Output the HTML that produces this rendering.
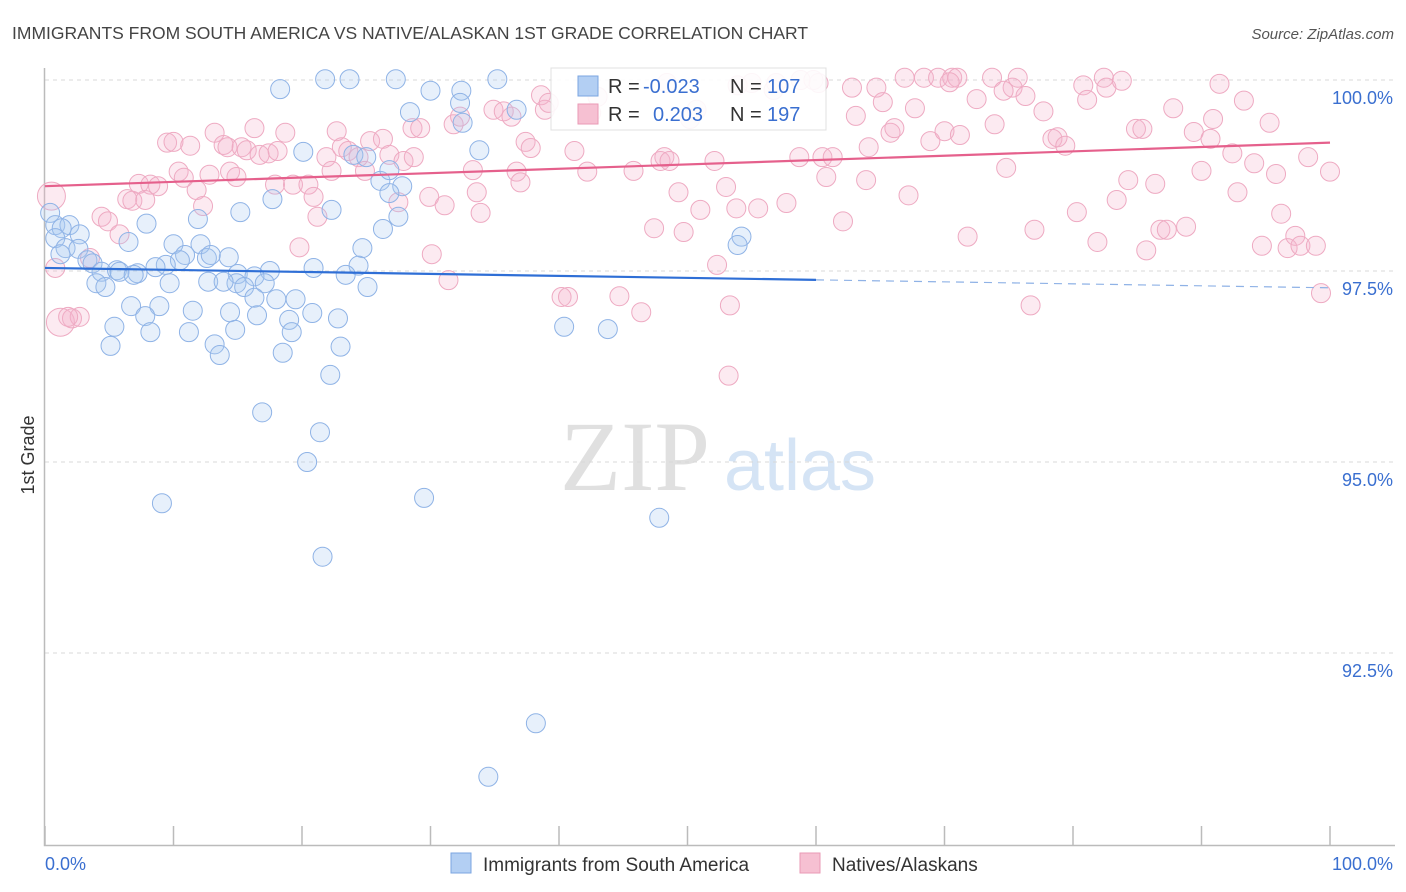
<!DOCTYPE html>
<html><head><meta charset="utf-8"><style>
html,body{margin:0;padding:0;background:#fff;width:1406px;height:892px;overflow:hidden;font-family:"Liberation Sans",sans-serif}
</style></head><body>
<svg id="chart" width="1406" height="892" xmlns="http://www.w3.org/2000/svg" font-family="Liberation Sans, sans-serif">
<text x="12" y="39" font-size="17.5" fill="#444">IMMIGRANTS FROM SOUTH AMERICA VS NATIVE/ALASKAN 1ST GRADE CORRELATION CHART</text>
<text x="1394" y="39" font-size="15" fill="#555" font-style="italic" text-anchor="end">Source: ZipAtlas.com</text>
<g>
<text x="635" y="490" font-size="100" fill="#e0e0e0" text-anchor="middle" font-family="Liberation Serif, serif">ZIP</text>
<text x="800" y="490" font-size="72" fill="#d5e4f5" text-anchor="middle">atlas</text>
</g>
<text transform="translate(34,455) rotate(-90)" font-size="18" fill="#333" text-anchor="middle">1st Grade</text>
<g id="grid"></g><g id="axes"></g><g id="pts"></g><g id="trend"></g>
<g>
<rect x="551" y="68" width="275" height="62" fill="#fff" stroke="#ddd" opacity="0.9"/>
<rect x="578" y="76" width="20" height="20" fill="#b3cff3" stroke="#7ba6e0"/>
<text x="608" y="93" font-size="20" fill="#333">R = </text>
<text x="643" y="93" font-size="20" fill="#3a6fd0">-0.023</text>
<text x="730" y="93" font-size="20" fill="#333">N = </text>
<text x="767" y="93" font-size="20" fill="#3a6fd0">107</text>
<rect x="578" y="104" width="20" height="20" fill="#f6c0d2" stroke="#e99ab5"/>
<text x="608" y="121" font-size="20" fill="#333">R = </text>
<text x="653" y="121" font-size="20" fill="#3a6fd0">0.203</text>
<text x="730" y="121" font-size="20" fill="#333">N = </text>
<text x="767" y="121" font-size="20" fill="#3a6fd0">197</text>
</g>
<g>
<rect x="451" y="853" width="20" height="20" fill="#b3cff3" stroke="#7ba6e0"/>
<text x="483" y="871" font-size="19" fill="#333">Immigrants from South America</text>
<rect x="800" y="853" width="20" height="20" fill="#f6c0d2" stroke="#e99ab5"/>
<text x="832" y="871" font-size="19" fill="#333">Natives/Alaskans</text>
</g>
</svg>
<script>
const yTicks=[100,97.5,95,92.5];
const yTickLabels=["100.0%","97.5%","95.0%","92.5%"];
const xTicks=[0,10,20,30,40,50,60,70,80,90,100];
const blueX=[18.3,21.8,23.7,27.3,35.2,30.0,32.4,32.3,28.4,36.7,32.5,33.8,20.1,24.0,25.0,26.1,26.8,27.8,26.8,17.7,15.2,22.3,27.5,26.3,7.9,0.4,0.8,1.9,1.3,2.7,0.8,1.6,2.6,1.2,6.5,10.0,12.1,11.9,10.9,10.5,9.4,8.6,12.6,14.3,12.9,24.7,20.9,24.4,23.4,17.5,15.0,16.3,14.9,3.3,3.7,4.4,5.6,5.8,7.2,6.9,4.0,4.7,9.7,12.7,13.9,17.1,25.1,15.5,16.3,18.0,19.5,6.7,8.9,11.5,14.4,20.8,5.4,7.8,8.2,11.2,14.8,16.5,19.0,19.2,22.8,5.1,13.2,13.6,18.5,23.0,22.2,16.9,21.4,20.4,9.1,29.5,21.6,38.2,34.5,40.4,43.8,47.8,54.2,53.9];
const blueY=[99.88,100.01,100.01,100.01,100.01,99.86,99.86,99.70,99.58,99.61,99.44,99.08,99.06,99.02,98.99,98.68,98.82,98.61,98.52,98.44,98.27,98.30,98.21,98.05,98.12,98.26,98.10,98.10,98.06,97.98,97.93,97.80,97.79,97.72,97.88,97.85,97.85,98.18,97.71,97.64,97.58,97.55,97.67,97.68,97.71,97.80,97.54,97.57,97.45,97.50,97.46,97.43,97.34,97.64,97.60,97.49,97.51,97.49,97.47,97.45,97.34,97.29,97.34,97.36,97.36,97.34,97.29,97.29,97.15,97.13,97.13,97.04,97.04,96.98,96.96,96.95,96.77,96.91,96.70,96.70,96.73,96.92,96.86,96.70,96.88,96.52,96.54,96.40,96.43,96.51,96.14,95.65,95.39,95.00,94.46,94.53,93.76,91.58,90.88,96.77,96.74,94.27,97.95,97.84];
const pinkX=[0.5,0.8,1.2,2.1,2.7,1.8,3.5,4.4,4.9,5.8,6.4,6.8,7.3,8.2,8.8,7.8,9.5,10.0,10.4,10.8,11.3,11.8,12.3,12.8,13.2,13.9,14.4,14.9,14.2,15.3,15.7,16.3,16.7,17.4,18.1,18.7,17.9,19.3,19.8,20.5,20.9,21.2,21.9,22.3,22.7,23.1,23.6,24.4,24.9,25.3,26.3,26.8,27.9,28.7,27.5,28.6,29.2,30.1,29.9,31.4,31.1,31.8,32.3,33.3,33.6,33.9,34.9,35.7,36.3,36.7,37.0,37.4,37.8,38.6,38.9,39.2,40.2,40.7,41.2,42.2,42.5,43.0,44.7,45.8,46.4,47.4,47.9,48.2,48.6,48.4,49.3,49.7,50.2,50.7,51.0,52.1,52.3,53.0,53.3,53.8,53.2,55.0,55.5,56.7,56.9,57.7,58.7,60.2,60.5,60.8,61.3,62.1,62.8,63.1,63.9,64.1,64.7,65.2,65.8,66.1,66.9,67.2,67.7,68.4,68.9,69.5,70.0,70.6,71.0,71.2,71.8,72.5,73.7,73.9,74.8,75.3,75.7,76.3,76.7,77.0,77.7,78.4,78.8,79.4,80.3,80.8,81.1,81.9,82.4,82.6,83.4,83.8,84.3,84.9,85.4,85.7,86.4,86.8,87.3,87.8,88.8,89.4,90.0,90.7,90.9,91.4,92.4,92.8,93.3,94.1,94.7,95.3,95.8,96.2,96.7,97.3,97.7,98.3,98.9,99.3,100.0,70.4,74.6,53.9,58.8,59.8];
const pinkY=[98.48,97.54,96.83,96.88,96.90,96.90,97.67,98.21,98.15,97.98,98.44,98.42,98.64,98.63,98.61,98.43,99.18,99.19,98.80,98.72,99.14,98.56,98.35,98.76,99.31,99.15,98.80,98.73,99.12,99.12,99.08,99.37,99.02,99.04,99.07,99.31,98.63,98.63,97.81,98.63,98.47,98.21,98.99,98.81,99.33,99.12,99.07,98.99,98.81,99.20,99.23,99.02,98.94,98.99,98.40,99.37,99.37,97.72,98.47,97.38,98.36,99.42,99.52,98.82,98.53,98.26,99.61,99.59,99.52,98.80,98.66,99.19,99.11,99.80,99.61,99.70,97.16,97.16,99.07,98.80,99.57,99.78,97.17,98.81,96.96,98.06,98.94,98.99,98.94,99.96,98.53,98.01,99.49,99.61,98.30,98.94,97.58,98.60,97.05,98.32,96.13,99.96,98.32,99.87,99.96,98.39,98.99,99.96,98.99,98.73,98.99,98.15,99.90,99.53,98.69,99.12,99.90,99.71,99.31,99.37,100.03,98.49,99.63,100.03,99.20,100.03,99.33,100.03,100.03,99.28,97.95,99.75,100.03,99.42,98.85,99.90,100.03,99.79,97.05,98.04,99.59,99.23,99.25,99.14,98.27,99.93,99.74,97.88,100.03,99.90,98.43,99.99,98.69,99.36,99.36,97.77,98.64,98.04,98.04,99.63,98.08,99.32,98.81,99.23,99.49,99.95,99.04,98.53,99.73,98.91,97.83,99.44,98.77,98.25,97.80,97.96,97.83,98.99,97.83,97.21,98.80,99.97,99.86,99.93,100.0,100.0];
const blueTrend=[97.54,97.28];
const pinkTrend=[98.61,99.18];
const blueSolidEnd=60;

const NS="http://www.w3.org/2000/svg";
const X=v=>45+v*12.85;
const Y=v=>80+(100-v)*76.4;
function mk(tag,attrs,parent){const e=document.createElementNS(NS,tag);for(const k in attrs)e.setAttribute(k,attrs[k]);parent.appendChild(e);return e;}
const grid=document.getElementById('grid'),axes=document.getElementById('axes'),pts=document.getElementById('pts'),tr=document.getElementById('trend');
yTicks.forEach((t,i)=>{
  const l=mk('line',{x1:45,x2:1395,y1:Y(t),y2:Y(t),stroke:'#d8d8d8','stroke-dasharray':'4,4'},grid);
  
  
  const tx=mk('text',{x:1393,y:Y(t)+24,'font-size':18,fill:'#3a6fd0','text-anchor':'end'},grid);
  tx.textContent=yTickLabels[i];
  
  
});
const ax=mk('path',{d:'M44.5,68 V845.5 H1395',fill:'none',stroke:'#bbb','stroke-width':1.5},axes);


xTicks.forEach(t=>{
  const tk=mk('line',{x1:X(t),x2:X(t),y1:826,y2:845,stroke:'#bbb','stroke-width':1.5},axes);
  
  
});
const xl0=mk('text',{x:45,y:870,'font-size':18,fill:'#3a6fd0'},axes);xl0.textContent='0.0%';


const xl1=mk('text',{x:1393,y:870,'font-size':18,fill:'#3a6fd0','text-anchor':'end'},axes);xl1.textContent='100.0%';


function draw(xs,ys,fill,stroke,name){
  xs.forEach((x,i)=>{
    const big=(name==='pink-point'&&(i===0||i===2));
    const c=mk('circle',{cx:X(x),cy:Y(ys[i]),r:big?14:9.5,fill:fill,stroke:stroke,'stroke-width':1},pts);
    
    
  });
}
draw(pinkX,pinkY,'rgba(246,180,204,0.28)','#eeaac2','pink-point');
draw(blueX,blueY,'rgba(170,202,242,0.28)','#8fb3e6','blue-point');
const bm=blueTrend[0]+(blueTrend[1]-blueTrend[0])*blueSolidEnd/100;
const b1=mk('line',{x1:X(0),y1:Y(blueTrend[0]),x2:X(blueSolidEnd),y2:Y(bm),stroke:'#2f6fd6','stroke-width':2.2},tr);


const b2=mk('line',{x1:X(blueSolidEnd),y1:Y(bm),x2:X(100),y2:Y(blueTrend[1]),stroke:'#8fb2e6','stroke-width':1.2,'stroke-dasharray':'8,6'},tr);


const p1=mk('line',{x1:X(0),y1:Y(pinkTrend[0]),x2:X(100),y2:Y(pinkTrend[1]),stroke:'#e5608c','stroke-width':2.2},tr);


</script>
</body></html>
